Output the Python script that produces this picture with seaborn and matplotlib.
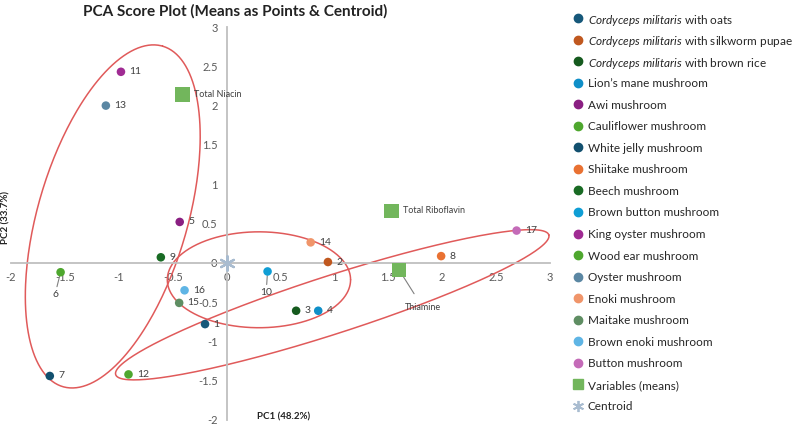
import numpy as np
import seaborn as sns
import matplotlib.pyplot as plt
from matplotlib.lines import Line2D

# data
samples = [
    'Cordyceps militaris with oats', 'Cordyceps militaris with silkworm pupae',
    'Cordyceps militaris with brown rice', "Lion's mane mushroom", 'Awi mushroom',
    'Cauliflower mushroom', 'White jelly mushroom', 'Shiitake mushroom',
    'Beech mushroom', 'Brown button mushroom', 'King oyster mushroom',
    'Wood ear mushroom', 'Oyster mushroom', 'Enoki mushroom', 'Maitake mushroom',
    'Brown enoki mushroom', 'Button mushroom',
]
sample_ids = ['1', '2', '3', '4', '5', '6', '7', '8', '9', '10', '11', '12', '13', '14', '15', '16', '17']
pc1 = [-0.20, 0.94, 0.645, 0.85, -0.435, -1.54, -1.64, 1.99, -0.61, 0.38, -0.98, -0.91, -1.12, 0.78, -0.44, -0.39, 2.69]
pc2 = [-0.78, 0.01, -0.61, -0.61, 0.52, -0.12, -1.44, 0.085, 0.07, -0.11, 2.43, -1.42, 2.00, 0.26, -0.51, -0.35, 0.41]

var_names = ['Total Niacin', 'Total Riboflavin', 'Thiamine']
var_pc1 = [-0.41, 1.53, 1.60]
var_pc2 = [2.14, 0.66, -0.09]

colors = ['#16587a', '#c0581f', '#155a1e', '#0f8fc8', '#8a1f82', '#4ea72e', '#12506f', '#e97132',
          '#196b24', '#0f9ed5', '#a02b93', '#4ea72e', '#5b87a3', '#f0956a', '#5f8e63', '#5fb5e5', '#c46bb8']
palette = dict(zip(samples, colors))
var_color = '#72b65c'
centroid_color = '#a9bcd0'

# hand-drawn grouping ellipses: centre + two conjugate semi-axes (data units)
ellipses = [
    ((-1.056, 0.59), (0.463, 2.166), (0.666, -0.268)),
    ((0.30, -0.216), (0.85, 0.0), (0.0, 0.61)),
    ((0.98, -0.534), (2.009, 0.889), (0.082, -0.351)),
]

sns.set_style('white')
plt.rcParams['font.family'] = ['Lato', 'DejaVu Sans']
plt.rcParams['mathtext.fontset'] = 'custom'
plt.rcParams['mathtext.it'] = 'Lato:italic'
plt.rcParams['mathtext.rm'] = 'Lato'

fig = plt.figure(figsize=(8, 4.25), dpi=100)
ax = fig.add_axes([11 / 800, 5 / 425, 539 / 800, 393 / 425])

# ellipses
t = np.linspace(0, 2 * np.pi, 300)
for (cx, cy), (ax_, ay_), (bx, by) in ellipses:
    ax.plot(cx + ax_ * np.cos(t) + bx * np.sin(t), cy + ay_ * np.cos(t) + by * np.sin(t),
            color='#e05a5a', lw=1.1, zorder=2)

sns.scatterplot(x=pc1, y=pc2, hue=samples, palette=palette, s=38, edgecolor='none',
                legend=False, ax=ax, zorder=4, clip_on=False)
sns.scatterplot(x=var_pc1, y=var_pc2, marker='s', color=var_color, s=110, edgecolor='none',
                legend=False, ax=ax, zorder=4)
ax.scatter([0], [0], marker=(6, 2, 0), s=110, color=centroid_color, linewidths=1.6, zorder=5)

# point labels (offsets in points)
offsets = {'6': (-4, -16), '10': (-1, -15)}
for name, x, y in zip(sample_ids, pc1, pc2):
    if name in offsets:
        ax.annotate(name, (x, y), xytext=offsets[name], textcoords='offset points',
                    fontsize=7.5, color='#404040', ha='center', va='center',
                    arrowprops=dict(arrowstyle='-', color='#808080', lw=0.8, shrinkA=0, shrinkB=3))
    else:
        ax.annotate(name, (x, y), xytext=(6, 0), textcoords='offset points',
                    fontsize=7.5, color='#404040', ha='left', va='center')

for name, x, y in zip(var_names, var_pc1, var_pc2):
    if name == 'Thiamine':
        ax.annotate(name, (x, y), xytext=(17, -27), textcoords='offset points',
                    fontsize=6.5, color='#404040', ha='center', va='center',
                    arrowprops=dict(arrowstyle='-', color='#808080', lw=0.8, shrinkA=5, shrinkB=2))
    else:
        ax.annotate(name, (x, y), xytext=(8, 0), textcoords='offset points',
                    fontsize=6.5, color='#404040', ha='left', va='center')

# Excel-like axes crossing at zero
ax.set_xlim(-2, 3)
ax.set_ylim(-2, 3)
ax.set_xticks(np.arange(-2, 3.01, 0.5))
ax.set_yticks(np.arange(-2, 3.01, 0.5))
ax.set_xticklabels(['-2', '-1.5', '-1', '-0.5', '0', '0.5', '1', '1.5', '2', '2.5', '3'])
ax.set_yticklabels(['-2', '-1.5', '-1', '-0.5', '0', '0.5', '1', '1.5', '2', '2.5', '3'])
for side in ['top', 'right']:
    ax.spines[side].set_visible(False)
ax.spines['left'].set_position(('data', 0))
ax.spines['bottom'].set_position(('data', 0))
for side in ['left', 'bottom']:
    ax.spines[side].set_color('#bfbfbf')
    ax.spines[side].set_linewidth(1.3)
ax.tick_params(axis='both', colors='#bfbfbf', labelcolor='#595959', labelsize=8,
               direction='out', length=3, width=1)
ax.patch.set_alpha(0)

fig.text(235 / 800, 1 - 11 / 425, 'PCA Score Plot (Means as Points & Centroid)',
         fontsize=11, fontweight='bold', ha='center', va='center', color='#222222')
fig.text(257 / 800, 1 - 417 / 425, 'PC1 (48.2%)', fontsize=7, fontweight='bold',
         ha='left', va='center', color='#222222')
fig.text(6 / 800, 1 - 217 / 425, 'PC2 (33.7%)', fontsize=7, fontweight='bold',
         rotation=90, ha='center', va='center', color='#222222')

# legend, one row at a time so every row has the same pitch
genus = 'Cordyceps militaris'
rows = []
for name, c in zip(samples, colors):
    if name.startswith(genus):
        label = r'$\it{Cordyceps\ militaris}$' + name[len(genus):]
    else:
        label = name.replace("'", '\u2019')
    rows.append((label, dict(marker='o', color=c, markersize=6)))
rows.append(('Variables (means)', dict(marker='s', color=var_color, markersize=7)))
rows.append(('Centroid', dict(marker=(6, 2, 0), color=centroid_color, markersize=8, mew=1.3)))

top_px, step_px = 18, 21.55
for i, (label, style) in enumerate(rows):
    yf = 1 - (top_px + i * step_px) / 425
    fig.add_artist(Line2D([578 / 800], [yf], transform=fig.transFigure, ls='none', **style))
    fig.text(588 / 800, yf, label, fontsize=8.5, color='#262626', ha='left', va='center_baseline')

fig.savefig('out.png', dpi=100)
